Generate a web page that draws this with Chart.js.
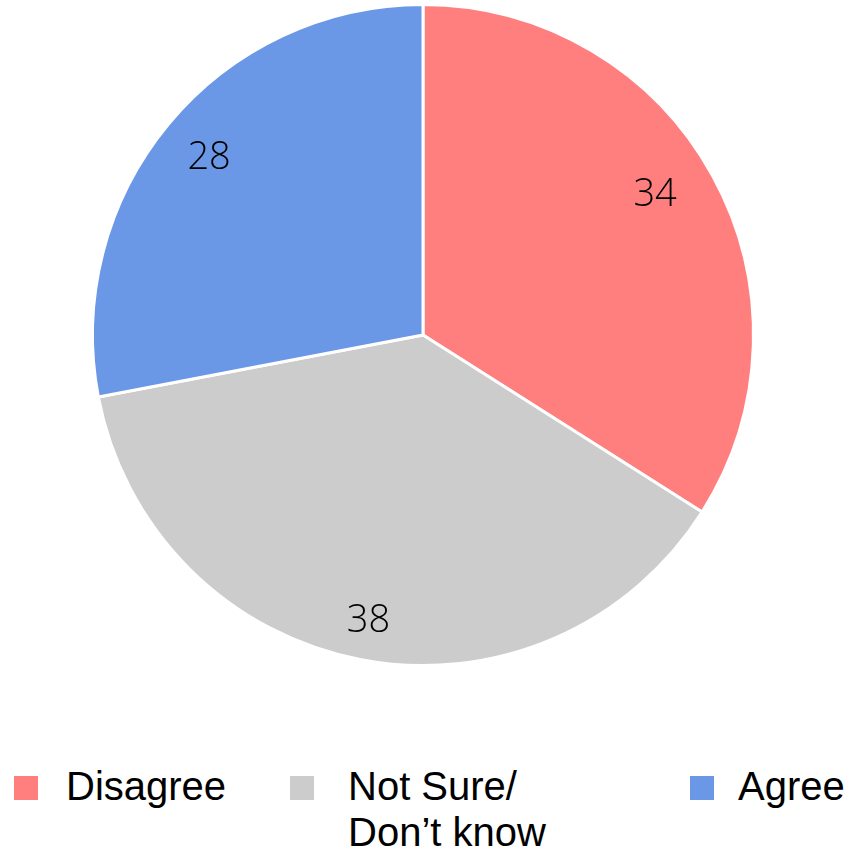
<!DOCTYPE html>
<html>
<head>
<meta charset="utf-8">
<script src="https://cdn.jsdelivr.net/npm/chart.js@4/dist/chart.umd.min.js"></script>
<style>
  body { margin: 0; background: #fff; width: 845px; height: 858px; overflow: hidden; position: relative; }
  #wrap { position: absolute; left: 0; top: 0; width: 846px; height: 670px; }
  .leg { position: absolute; font-family: "Liberation Sans", sans-serif; font-size: 40px; line-height: 46px; color: #000; white-space: nowrap; }
  .box { position: absolute; width: 24px; height: 24px; }
</style>
</head>
<body>
<div id="wrap"><canvas id="pie"></canvas></div>
<div id="legend"></div>
<script>
const labels = ['Disagree', 'Not Sure/\nDon\u2019t know', 'Agree'];
const values = [34, 38, 28];
const colors = ['#FF7F7F', '#CCCCCC', '#6B98E6'];

// legend positions (box x, text x)
const legendX = [[14, 66], [290, 348], [690, 738]];

const legend = document.getElementById('legend');
labels.forEach((l, i) => {
    let b = document.createElement('div');
    b.className = 'box';
    b.style.left = legendX[i][0] + 'px';
    b.style.top = '776px';
    b.style.background = colors[i];
    legend.appendChild(b);
    let t = document.createElement('div');
    t.className = 'leg';
    t.style.left = legendX[i][1] + 'px';
    t.style.top = '763px';
    t.innerHTML = l.replace('\n', '<br>');
    legend.appendChild(t);
});

const valueLabels = {
    id: 'valueLabels',
    afterDatasetsDraw(chart) {
        const ctx = chart.ctx;
        const meta = chart.getDatasetMeta(0);
        ctx.save();
        ctx.font = '300 38px "Open Sans", "Noto Sans", sans-serif';
        ctx.fillStyle = '#000';
        ctx.textAlign = 'center';
        ctx.textBaseline = 'middle';
        meta.data.forEach((arc, i) => {
            const a = (arc.startAngle + arc.endAngle) / 2 - [0.04, 0, 0][i];
            const r = arc.outerRadius * [0.82, 0.88, 0.84][i];
            ctx.fillText(values[i], arc.x + Math.cos(a) * r, arc.y + Math.sin(a) * r);
        });
        ctx.restore();
    }
};

new Chart(document.getElementById('pie').getContext('2d'), {
    type: 'pie',
    plugins: [valueLabels],
    data: {
        labels: labels,
        datasets: [{
            data: values,
            backgroundColor: colors,
            borderColor: '#fff',
            borderWidth: 3
        }]
    },
    options: {
        responsive: true,
        maintainAspectRatio: false,
        animation: false,
        layout: { padding: { top: 3, bottom: 3 } },
        plugins: {
            legend: { display: false },
            tooltip: { enabled: false }
        }
    }
});
</script>
</body>
</html>
